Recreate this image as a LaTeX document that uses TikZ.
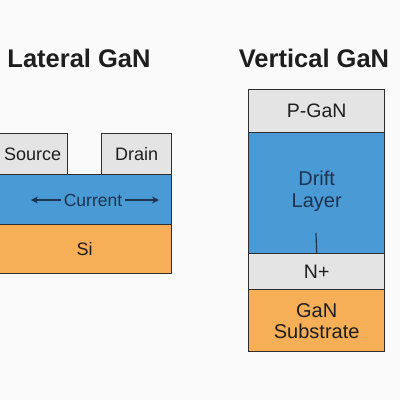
\documentclass[tikz,border=0pt]{standalone}
\usepackage{fontspec}
\setmainfont{Liberation Sans}
\usetikzlibrary{arrows.meta}
\definecolor{bg}{HTML}{FAFAFA}
\definecolor{gan}{HTML}{E4E4E4}
\definecolor{drift}{HTML}{4A9BD5}
\definecolor{sub}{HTML}{F6AE57}
\definecolor{edge}{HTML}{2E2E2E}
\definecolor{navy}{HTML}{1D3350}
\definecolor{ink}{HTML}{1E1E1E}
\begin{document}
\begin{tikzpicture}[x=1pt,y=-1pt,
  layer/.style={draw=edge,line width=1.4pt,inner sep=0pt,text=ink,font=\fontsize{18}{20}\selectfont},
  vlayer/.style={layer,minimum width=136pt,anchor=north west,align=center,font=\fontsize{19.5}{21}\selectfont},
  title/.style={font=\fontsize{25.5}{28}\selectfont\bfseries,text=ink,inner sep=0pt,anchor=base},
  arr/.style={draw=navy,line width=1.4pt,-{Stealth[length=7pt,width=7pt]}}]
\useasboundingbox (0,0) rectangle (400,400);
\fill[bg] (0,0) rectangle (400,400);
% titles
\node[title] (t1) at (79,67) {Lateral GaN};
\node[title] (t2) at (314,67) {Vertical GaN};
% lateral
\node[layer,fill=sub,minimum width=174pt,minimum height=50pt,anchor=north west] (si) at (-3,223) {Si};
\node[layer,fill=drift,minimum width=174pt,minimum height=50pt,anchor=north west] (ch) at (-3,174) {};
\node[layer,fill=gan,minimum width=70pt,minimum height=41pt,anchor=north west] (src) at (-3,133) {Source};
\node[layer,fill=gan,minimum width=70pt,minimum height=41pt,anchor=north west] (drn) at (101,133) {Drain};
\node[inner sep=0pt,text=navy,font=\fontsize{17.5}{20}\selectfont] (cur) at (93,200) {Current};
\coordinate (la) at (31,200);
\coordinate (ra) at (159,200);
\draw[arr] ([xshift=-3pt]cur.west) -- (la);
\draw[arr] ([xshift=3pt]cur.east) -- (ra);
% vertical
\node[vlayer,fill=gan,minimum height=43pt] (pg) at (248,89) {P-GaN};
\node[vlayer,fill=drift,minimum height=121pt,text=navy,font=\fontsize{20}{23}\selectfont] (dr) at (248,132) {\raisebox{20pt}{\begin{tabular}{@{}c@{}}Drift\\[-1pt]Layer\end{tabular}}};
\node[vlayer,fill=gan,minimum height=36pt] (np) at (248,253) {N+};
\node[vlayer,fill=sub,minimum height=62pt,font=\fontsize{20}{21}\selectfont] (gs) at (248,289) {GaN\\Substrate};
\coordinate (vl) at (316,233);
\draw[navy,line width=1.2pt] (vl) -- (np.north);
\end{tikzpicture}
\end{document}
